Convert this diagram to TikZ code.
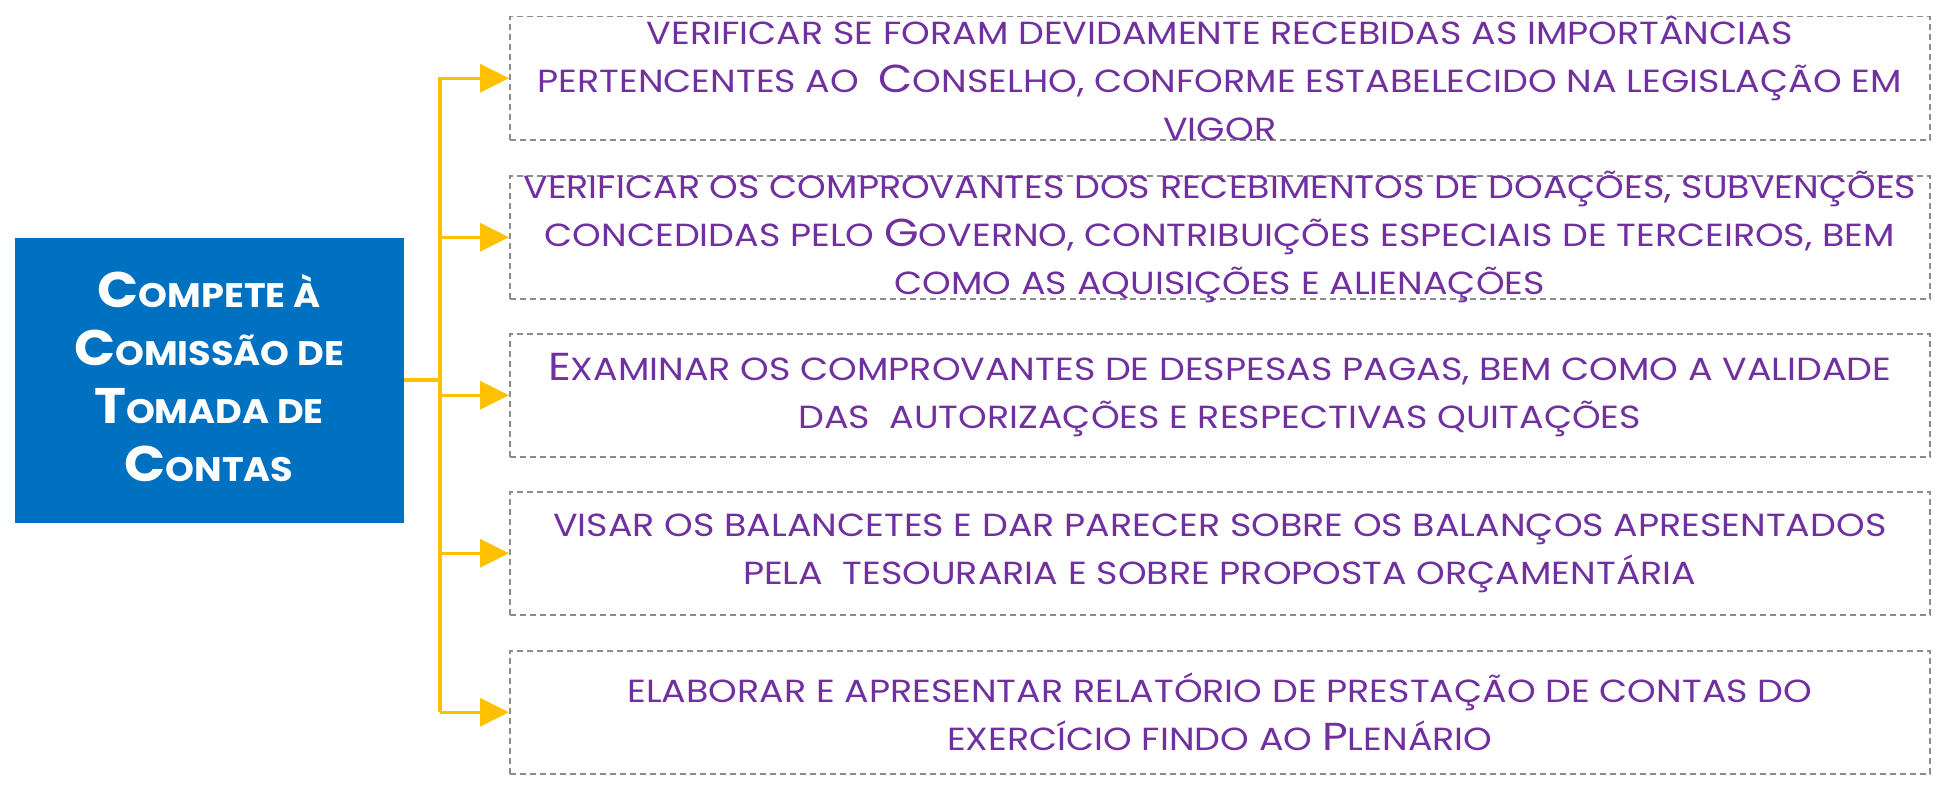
\documentclass[tikz,border=0pt]{standalone}
\usepackage{fontspec}
\setmainfont{Poppins}
\newfontfamily\bodyfont[FakeStretch=1.14]{Poppins}
\newfontfamily\titlefont[FakeStretch=1.08]{Poppins}
\usetikzlibrary{arrows.meta}
\definecolor{bluebox}{HTML}{0070C0}
\definecolor{gold}{HTML}{FFC000}
\definecolor{purp}{HTML}{7030A0}
\definecolor{dgray}{HTML}{8C8C8C}
\newcommand\Lg[1]{{\fontsize{39}{39}\selectfont #1}}
\newcommand\Tg[1]{{\fontsize{50}{50}\selectfont #1}}
\begin{document}
\begin{tikzpicture}[x=1pt,y=-1pt,
  box/.style={draw=dgray, line width=1.5pt, dash pattern=on 6pt off 4pt,
    minimum width=1420pt, minimum height=123pt, inner sep=0pt, anchor=north west},
  txt/.style={text=purp, font=\bodyfont\fontsize{32}{48}\selectfont, align=center, inner sep=0pt},
  conn/.style={draw=gold, line width=3.5pt},
  arr/.style={conn, -{Triangle[length=29pt,width=28pt]}}
]
\useasboundingbox (0,0) rectangle (1945,792);
% main box
\node[fill=bluebox, minimum width=389pt, minimum height=285pt, inner sep=0pt] (m) at (209,380) {};
\node[text=white, font=\titlefont\bfseries\fontsize{34}{58}\selectfont, align=center, inner sep=0pt] (mt) at (209,377)
  {\Tg{C}OMPETE À\\\Tg{C}OMISSÃO DE\\\Tg{T}OMADA DE\\\Tg{C}ONTAS};
% boxes
\node[box] (b1) at (509,16) {};
\node[box] (b2) at (509,175) {};
\node[box] (b3) at (509,333) {};
\node[box] (b4) at (509,491) {};
\node[box] (b5) at (509,650) {};
% texts
\node[txt] (t1) at (b1.center) {VERIFICAR SE FORAM DEVIDAMENTE RECEBIDAS AS IMPORTÂNCIAS\\PERTENCENTES AO\ \ \Lg{C}ONSELHO, CONFORME ESTABELECIDO NA LEGISLAÇÃO EM\\VIGOR};
\node[txt] (t2) at (b2.center) {VERIFICAR OS COMPROVANTES DOS RECEBIMENTOS DE DOAÇÕES, SUBVENÇÕES\\CONCEDIDAS PELO \Lg{G}OVERNO, CONTRIBUIÇÕES ESPECIAIS DE TERCEIROS, BEM\\COMO AS AQUISIÇÕES E ALIENAÇÕES};
\node[txt] (t3) at (b3.center) {\Lg{E}XAMINAR OS COMPROVANTES DE DESPESAS PAGAS, BEM COMO A VALIDADE\\DAS\ \ AUTORIZAÇÕES E RESPECTIVAS QUITAÇÕES};
\node[txt] (t4) at (b4.center) {VISAR OS BALANCETES E DAR PARECER SOBRE OS BALANÇOS APRESENTADOS\\PELA\ \ TESOURARIA E SOBRE PROPOSTA ORÇAMENTÁRIA};
\node[txt] (t5) at (b5.center) {ELABORAR E APRESENTAR RELATÓRIO DE PRESTAÇÃO DE CONTAS DO\\EXERCÍCIO FINDO AO \Lg{P}LENÁRIO};
% connectors
\coordinate (top) at (440,77);
\coordinate (bot) at (440,712);
\draw[conn] (top) -- (bot);
\draw[conn] (m.east) -- (m.east -| top);
\foreach \i in {1,...,5} {
  \draw[arr] (b\i.west -| top) -- (b\i.west);
}
\end{tikzpicture}
\end{document}
